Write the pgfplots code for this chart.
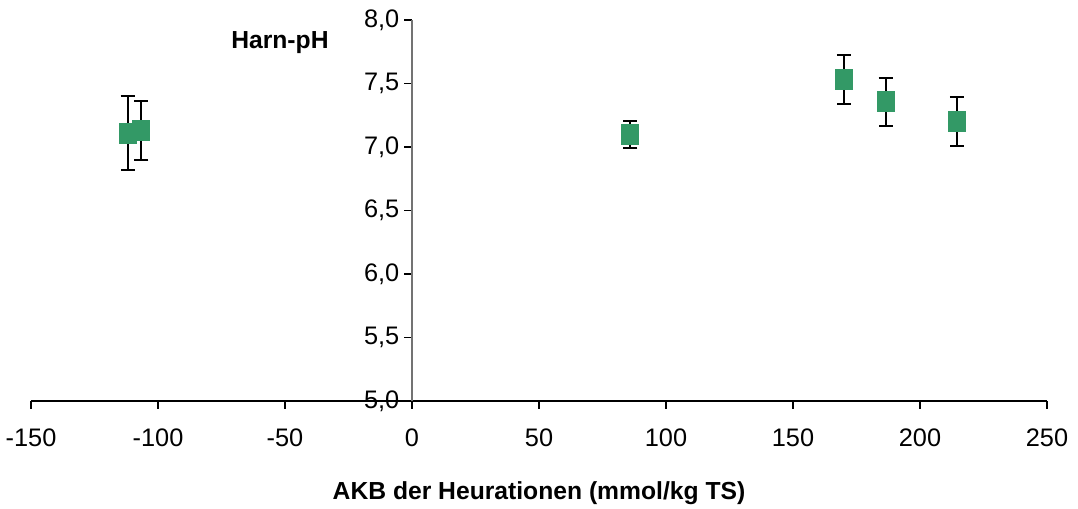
\documentclass[border=0pt]{standalone}
\usepackage{pgfplots}
\pgfplotsset{compat=1.18}
\usepackage{fontspec}
\setmainfont{Liberation Sans}
\usetikzlibrary{calc}
\definecolor{markgreen}{RGB}{51,153,102}
\begin{document}
\begin{tikzpicture}
\begin{axis}[
  name=ax,
  scale only axis,
  width=762pt, height=285.75pt,
  xmin=-150, xmax=250, ymin=5, ymax=8,
  axis x line=bottom,
  axis y line=middle,
  x axis line style={-, black, line width=0.8pt},
  y axis line style={-, black!55, line width=0.8pt},
  hide obscured x ticks=false,
  hide obscured y ticks=false,
  xtick={-150,-100,...,250},
  ytick={5,5.5,...,8},
  xtick align=outside,
  ytick align=outside,
  major tick length=6pt,
  x tick style={black, line width=0.8pt},
  y tick style={black, line width=0.8pt},
  tick label style={font=\fontsize{19}{22}\selectfont},
  /pgf/number format/assume math mode=true,
  yticklabel style={/pgf/number format/.cd, use comma, fixed, fixed zerofill, precision=1},
  xticklabel style={yshift=-11pt, /pgf/number format/.cd, fixed, precision=0},
  xlabel={AKB der Heurationen (mmol/kg TS)},
  xlabel style={font=\fontsize{18.5}{22}\selectfont\bfseries, at={(axis description cs:0.5,0)}, anchor=center, yshift=-69pt},
  clip=false,
]
\addplot[draw=none, mark=none,
  error bars/.cd, y dir=both, y explicit, error mark=|,
  error bar style={black, line width=1.5pt},
  error mark options={black, line width=1.5pt, mark size=5.25pt}]
  table[x=x, y=y, y error=e] {
x y e
-112 7.11 0.29
-106.5 7.13 0.23
86 7.10 0.105
170 7.53 0.195
186.5 7.355 0.19
214.5 7.20 0.19
};
\addplot[only marks, mark=square*, mark size=7.5pt,
  mark options={fill=markgreen, draw=markgreen, line width=0pt, xscale=0.85}]
  table[x=x, y=y] {
x y
-112 7.11
-106.5 7.13
86 7.10
170 7.53
186.5 7.355
214.5 7.20
};
\node[font=\fontsize{18.5}{22}\selectfont\bfseries] at (axis cs:-52,7.82) {Harn-pH};
\end{axis}
\pgfresetboundingbox
\path[use as bounding box] ($(ax.south west)+(-23.25pt,-81pt)$) rectangle ($(ax.north east)+(23.25pt,15pt)$);
\end{tikzpicture}
\end{document}
